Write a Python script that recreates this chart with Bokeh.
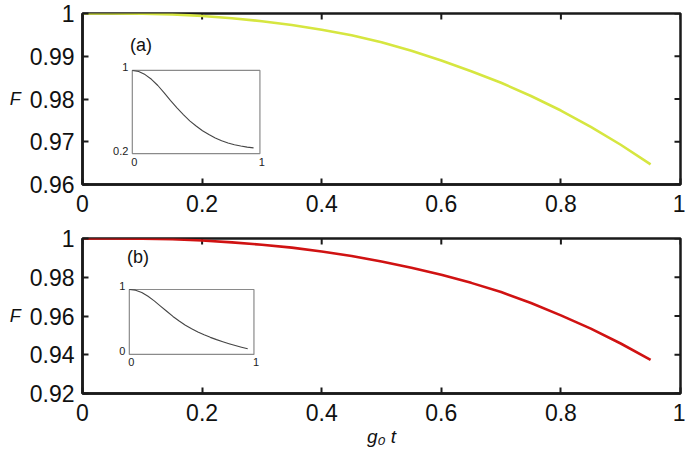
import math
from bokeh.plotting import figure
from bokeh.layouts import column
from bokeh.models import Range1d, FixedTicker, LinearAxis
from bokeh.models import Label
from bokeh.core.properties import value
from bokeh.embed import file_html
from bokeh.resources import INLINE

# ---- data ----
t = [0.0, 0.05, 0.1, 0.15, 0.2, 0.25, 0.3, 0.35, 0.4, 0.45,
     0.5, 0.55, 0.6, 0.65, 0.7, 0.75, 0.8, 0.85, 0.9, 0.95]
fid_a = [1.0, 1.0, 0.99995, 0.9998, 0.9994, 0.9989, 0.9982, 0.9973, 0.9962, 0.9949,
         0.9933, 0.9913, 0.9890, 0.9865, 0.9838, 0.9807, 0.9773, 0.9735, 0.9693, 0.9647]
fid_b = [1.0, 1.0, 0.9999, 0.9996, 0.9990, 0.9980, 0.9968, 0.9953, 0.9933, 0.9910,
         0.9881, 0.9849, 0.9813, 0.9771, 0.9724, 0.9667, 0.9603, 0.9535, 0.9458, 0.9374]
inset_a = [1.0, 0.99, 0.96, 0.915, 0.855, 0.785, 0.71, 0.64, 0.575, 0.515,
           0.465, 0.42, 0.383, 0.35, 0.323, 0.302, 0.285, 0.272, 0.262, 0.255]
inset_b = [1.0, 0.99, 0.955, 0.895, 0.825, 0.745, 0.665, 0.585, 0.515, 0.45,
           0.395, 0.345, 0.302, 0.263, 0.228, 0.196, 0.166, 0.138, 0.112, 0.088]

x_ticks = [0, 0.2, 0.4, 0.6, 0.8, 1]
x_tick_labels = ["0", "0.2", "0.4", "0.6", "0.8", "1"]
y_ticks_a = [0.96, 0.97, 0.98, 0.99, 1]
y_tick_labels_a = ["0.96", "0.97", "0.98", "0.99", "1"]
y_ticks_b = [0.92, 0.94, 0.96, 0.98, 1]
y_tick_labels_b = ["0.92", "0.94", "0.96", "0.98", "1"]
inset_x_ticks = [0, 1]
inset_x_labels = ["0", "1"]
inset_a_y_ticks = [0.2, 1]
inset_a_y_labels = ["0.2", "1"]
inset_b_y_ticks = [0, 1]
inset_b_y_labels = ["0", "1"]

FONT = "Liberation Sans"
AX = "#1a1a1a"
HAS_ORIENT = "axis_label_orientation" in LinearAxis.properties()


def inset_range(lo, hi, f0, f1):
    span = (hi - lo) / (f1 - f0)
    start = lo - f0 * span
    return Range1d(start, start + span)


def panel(fid, color, yticks, ylabels, ins, ins_yticks, ins_ylabels,
          ins_fx, ins_fy, tag, tag_xy, height, mbt, mbb, xlabel=None):
    p = figure(width=685, height=height, output_backend="svg", toolbar_location=None,
               x_range=Range1d(0, 1), y_range=Range1d(yticks[0], yticks[-1]),
               min_border_left=82, min_border_right=5, min_border_top=mbt,
               min_border_bottom=mbb, background_fill_color="white",
               border_fill_color="white")
    p.grid.visible = False
    p.outline_line_color = AX
    p.outline_line_width = 2.5

    def style(ax, ticks, labels, standoff):
        ax.ticker = FixedTicker(ticks=ticks)
        ax.major_label_overrides = {tv: lb for tv, lb in zip(ticks, labels)}
        ax.axis_line_width = 2.5
        ax.axis_line_color = AX
        ax.major_tick_line_color = AX
        ax.major_tick_line_width = 2
        ax.major_tick_in = 6
        ax.major_tick_out = 0
        ax.minor_tick_line_color = None
        ax.major_label_text_font = FONT
        ax.major_label_text_color = "#111111"
        ax.major_label_text_font_size = "23px"
        ax.major_label_standoff = standoff

    style(p.xaxis[0], x_ticks, x_tick_labels, 10)
    style(p.yaxis[0], yticks, ylabels, 8)
    if xlabel:
        xa = p.xaxis[0]
        xa.axis_label = xlabel
        xa.axis_label_text_font = FONT
        xa.axis_label_text_font_style = "italic"
        xa.axis_label_text_font_size = "19px"
        xa.axis_label_standoff = 2
        xa.axis_label_text_color = "#111111"
    ya = p.yaxis[0]
    ya.axis_label = "F"
    ya.axis_label_text_font = FONT
    ya.axis_label_text_font_style = "italic"
    ya.axis_label_text_font_size = "18px"
    ya.axis_label_text_color = "#111111"
    ya.axis_label_standoff = 6
    if HAS_ORIENT:
        ya.axis_label_orientation = "horizontal"

    # inward ticks on the top and right edges (half of each dash is clipped by the frame)
    p.scatter(x=x_ticks, y=[yticks[-1]] * len(x_ticks), marker="dash", angle=math.pi / 2,
              size=12, line_color=AX, line_width=2)
    p.scatter(x=[x_ticks[-1]] * len(yticks), y=yticks, marker="dash",
              size=12, line_color=AX, line_width=2)

    p.line(t, fid, line_color=color, line_width=2.6)

    # inset drawn through its own ranges
    p.extra_x_ranges = {"ins": inset_range(inset_x_ticks[0], inset_x_ticks[-1], *ins_fx)}
    p.extra_y_ranges = {"ins": inset_range(ins_yticks[0], ins_yticks[-1], *ins_fy)}
    p.quad(left=[inset_x_ticks[0]], right=[inset_x_ticks[-1]],
           bottom=[ins_yticks[0]], top=[ins_yticks[-1]],
           x_range_name="ins", y_range_name="ins",
           fill_color="white", line_color="#8a8a8a", line_width=1.2)
    p.line(t, ins, x_range_name="ins", y_range_name="ins",
           line_color="#454545", line_width=1.1, line_join="round")
    p.text(x=[inset_x_ticks[0]] * len(ins_yticks), y=ins_yticks, text=ins_ylabels,
           x_range_name="ins", y_range_name="ins", x_offset=-4, y_offset=-3,
           text_align="right", text_baseline="middle", text_font=value(FONT),
           text_font_size="11px", text_color="#222222")
    p.text(x=inset_x_ticks, y=[ins_yticks[0]] * len(inset_x_ticks), text=inset_x_labels,
           x_range_name="ins", y_range_name="ins", x_offset=2, y_offset=4,
           text_align="center", text_baseline="top", text_font=value(FONT),
           text_font_size="11px", text_color="#222222")

    p.add_layout(Label(x=tag_xy[0], y=tag_xy[1], text=tag, text_font=FONT,
                       text_font_size="18px", text_align="center",
                       text_baseline="middle", text_color="#111111"))
    return p


pa = panel(fid_a, "#d6e640", y_ticks_a, y_tick_labels_a, inset_a,
           inset_a_y_ticks, inset_a_y_labels,
           (0.0833, 0.2967), (0.181, 0.667), "(a)", (0.098, 0.9926),
           225, 13, 41)
pb = panel(fid_b, "#d01212", y_ticks_b, y_tick_labels_b, inset_b,
           inset_b_y_ticks, inset_b_y_labels,
           (0.0783, 0.2867), (0.252, 0.671), "(b)", (0.093, 0.9907),
           224, 13, 56, xlabel="g\u2080 t")

layout = column(pa, pb, spacing=0)
open("out.html", "w").write(file_html(layout, INLINE))
